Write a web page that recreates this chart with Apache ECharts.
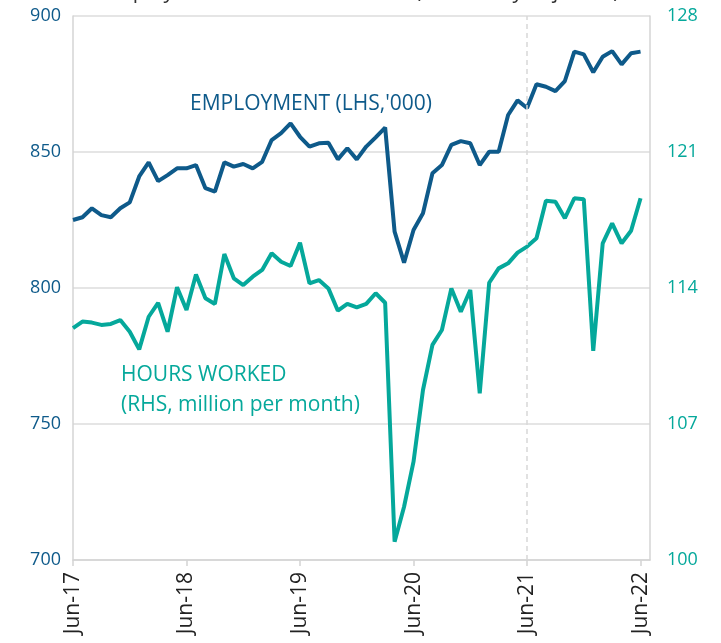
<!DOCTYPE html>
<html>
<head>
<meta charset="utf-8">
<script src="https://cdn.jsdelivr.net/npm/echarts@6/dist/echarts.min.js"></script>
<style>
  *{ margin:0; padding:0; }
  body{ background:#fff; }
  #chart{ width:721px; height:643px; }
</style>
</head>
<body>
<div id="chart"></div>
<script>
  // months on the x axis, Jun-17 .. Jul-22 (last slot is empty space)
  const months = [
    'Jun-17','Jul-17','Aug-17','Sep-17','Oct-17','Nov-17','Dec-17','Jan-18','Feb-18','Mar-18','Apr-18','May-18',
    'Jun-18','Jul-18','Aug-18','Sep-18','Oct-18','Nov-18','Dec-18','Jan-19','Feb-19','Mar-19','Apr-19','May-19',
    'Jun-19','Jul-19','Aug-19','Sep-19','Oct-19','Nov-19','Dec-19','Jan-20','Feb-20','Mar-20','Apr-20','May-20',
    'Jun-20','Jul-20','Aug-20','Sep-20','Oct-20','Nov-20','Dec-20','Jan-21','Feb-21','Mar-21','Apr-21','May-21',
    'Jun-21','Jul-21','Aug-21','Sep-21','Oct-21','Nov-21','Dec-21','Jan-22','Feb-22','Mar-22','Apr-22','May-22',
    'Jun-22','Jul-22'
  ];

  // employment, '000 (left axis)
  const employment = [
    825.0, 826.0, 829.3, 826.8, 826.0, 829.3, 831.5, 841.0, 846.2, 839.3, 841.5, 844.0,
    844.0, 845.2, 836.7, 835.4, 846.2, 844.6, 845.6, 844.0, 846.4, 854.4, 856.9, 860.5,
    855.6, 852.0, 853.2, 853.4, 847.3, 851.4, 847.3, 852.0, 855.4, 859.0, 820.7, 809.3,
    821.3, 827.5, 842.2, 845.2, 852.6, 854.0, 853.2, 845.2, 850.1, 850.1, 863.6, 869.0,
    866.2, 874.9, 874.0, 872.4, 876.1, 886.9, 885.9, 879.3, 885.0, 887.1, 882.2, 886.3,
    886.9
  ];

  // hours worked, million per month (right axis)
  const hoursWorked = [
    111.93, 112.27, 112.22, 112.10, 112.15, 112.35, 111.75, 110.84, 112.52, 113.24, 111.75, 114.04,
    112.87, 114.70, 113.47, 113.18, 115.75, 114.50, 114.15, 114.58, 114.93, 115.79, 115.35, 115.13,
    116.33, 114.24, 114.41, 113.98, 112.83, 113.18, 113.00, 113.18, 113.73, 113.24, 100.94, 102.74,
    105.06, 108.75, 111.07, 111.84, 113.98, 112.78, 113.90, 108.58, 114.27, 115.01, 115.27, 115.82,
    116.13, 116.56, 118.49, 118.44, 117.59, 118.62, 118.57, 110.77, 116.30, 117.33, 116.30, 116.95,
    118.62
  ];

  const blue = '#0e5a8a';
  const teal = '#05a89b';
  const font = '"Open Sans", "Noto Sans", sans-serif';

  let chart = echarts.init(document.getElementById('chart'));

  chart.setOption({
    animation: false,
    textStyle: { fontFamily: font },
    title: {
      // title is cut off at the top of the picture
      text: 'Employment and hours worked (seasonally adjusted)',
      left: 'center',
      top: -23,
      textStyle: { fontFamily: font, fontSize: 21, fontWeight: 'normal', color: '#333' }
    },
    grid: { left: 73, right: 71, top: 16, bottom: 83 },
    xAxis: {
      type: 'category',
      data: months,
      boundaryGap: false,
      axisLine: { lineStyle: { color: '#d4d4d4', width: 1.5 } },
      axisTick: { show: true, interval: 11, length: 6, lineStyle: { color: '#d4d4d4', width: 1.5 } },
      axisLabel: {
        interval: 11, rotate: 90, fontSize: 21, color: '#222', margin: 12, fontFamily: font
      },
      splitLine: { show: false }
    },
    yAxis: [
      {
        type: 'value', min: 700, max: 900, interval: 50,
        axisLine: { show: true, lineStyle: { color: '#d4d4d4', width: 1.5 } },
        axisTick: { show: false },
        axisLabel: { fontSize: 18, color: blue, margin: 12, fontFamily: font },
        splitLine: { lineStyle: { color: '#dcdcdc', width: 1.5 } }
      },
      {
        type: 'value', min: 100, max: 128, interval: 7,
        axisLine: { show: true, lineStyle: { color: '#d4d4d4', width: 1.5 } },
        axisTick: { show: false },
        axisLabel: { fontSize: 18, color: teal, margin: 17, fontFamily: font },
        splitLine: { show: false }
      }
    ],
    series: [
      {
        name: 'Employment',
        type: 'line',
        yAxisIndex: 0,
        data: employment,
        showSymbol: false,
        lineStyle: { color: blue, width: 4 },
        itemStyle: { color: blue },
        z: 3,
        markLine: {
          silent: true,
          symbol: 'none',
          label: { show: false },
          lineStyle: { color: '#d8d8d8', type: [5, 4], width: 1.5 },
          data: [{ xAxis: 'Jun-21' }]
        }
      },
      {
        name: 'Hours worked',
        type: 'line',
        yAxisIndex: 1,
        data: hoursWorked,
        showSymbol: false,
        lineStyle: { color: teal, width: 4 },
        itemStyle: { color: teal },
        z: 4
      }
    ],
    graphic: [
      {
        type: 'text', left: 190, top: 94,
        style: { text: "EMPLOYMENT (LHS,'000)", fill: blue, font: '21px ' + font }
      },
      {
        type: 'text', left: 121, top: 360,
        style: { text: 'HOURS WORKED\n(RHS, million per month)', fill: teal, font: '21px ' + font, lineHeight: 30 }
      }
    ]
  });
</script>
</body>
</html>
